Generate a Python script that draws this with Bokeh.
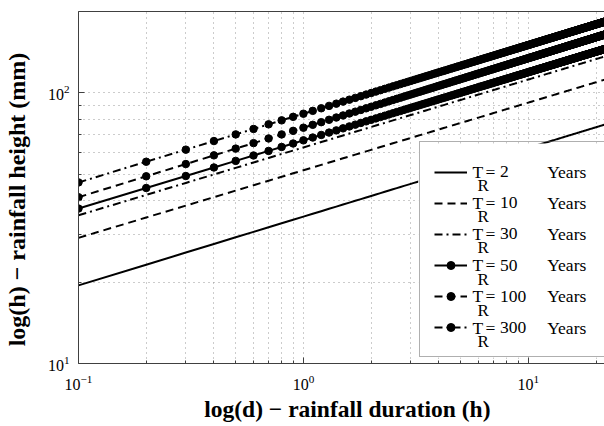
import math
from bokeh.plotting import figure
from bokeh.models import (Range1d, Legend, LegendItem, FixedTicker, LogTickFormatter,
                          LogAxis)
from bokeh.core.properties import value
from bokeh.embed import file_html
from bokeh.resources import INLINE

# ---- data ----
return_periods = [2, 10, 30, 50, 100, 300]               # T_R (years)
h_at_1h = [34.9, 51.8, 62.9, 66.8, 74.4, 83.8]            # rainfall height at d = 1 h (mm)
exponent_n = [0.254, 0.250, 0.251, 0.252, 0.257, 0.254]   # IDF exponent n  (h = a d^n)
durations = [round(0.1 * k, 1) for k in range(1, 241)]     # d = 0.1 ... 24 h, step 0.1 h

x_major_ticks = [0.1, 1, 10]
x_minor_ticks = [0.2, 0.3, 0.4, 0.5, 0.6, 0.7, 0.8, 0.9, 2, 3, 4, 5, 6, 7, 8, 9, 20]
y_major_ticks = [10, 100]
y_minor_ticks = [20, 30, 40, 50, 60, 70, 80, 90, 200]

line_dashes = ["solid", "8 5", "8 4 2 4", "solid", "8 5", "8 4 2 4"]
has_markers = [False, False, False, True, True, True]

FONT = "Liberation Serif"
X0, X1 = 0.1, 21.8
Y0, Y1 = 10, 200
W, H = 604, 426
FL, FR, FT, FB = 76, 604, 11, 363  # frame edges in px

p = figure(width=W, height=H, x_axis_type="log", y_axis_type="log",
           x_range=Range1d(X0, X1), y_range=Range1d(Y0, Y1),
           output_backend="svg", toolbar_location=None,
           min_border_left=FL, min_border_right=W - FR, min_border_top=FT,
           min_border_bottom=H - FB)
p.outline_line_color = None
p.background_fill_color = "white"
p.border_fill_color = "white"

p.xaxis[0].ticker = FixedTicker(ticks=x_major_ticks, minor_ticks=x_minor_ticks)
p.yaxis[0].ticker = FixedTicker(ticks=y_major_ticks, minor_ticks=y_minor_ticks)
p.xaxis[0].formatter = LogTickFormatter()
p.yaxis[0].formatter = LogTickFormatter()

for ax in (p.xaxis[0], p.yaxis[0]):
    ax.axis_line_color = "#404040"
    ax.axis_line_width = 1
    ax.major_tick_in = 6
    ax.major_tick_out = 0
    ax.minor_tick_in = 3
    ax.minor_tick_out = 0
    ax.major_tick_line_color = "#404040"
    ax.minor_tick_line_color = "#404040"
    ax.major_label_text_font = FONT
    ax.major_label_text_font_size = "16px"
    ax.major_label_text_color = "black"
    ax.axis_label_text_font = FONT
    ax.axis_label_text_font_style = "bold"
    ax.axis_label_text_color = "black"
p.xaxis[0].axis_label_text_font_size = "23.5px"
p.yaxis[0].axis_label_text_font_size = "24px"
p.xaxis[0].major_label_standoff = 11
p.yaxis[0].major_label_standoff = 9
p.xaxis[0].axis_label = "\u00a0\u00a0log(d) \u2212 rainfall duration (h)"
p.yaxis[0].axis_label = "log(h) \u2212 rainfall height (mm)\u00a0\u00a0\u00a0\u00a0"
p.xaxis[0].axis_label_standoff = 3
p.yaxis[0].axis_label_standoff = 15

# top frame border (axis without ticks or labels)
top_axis = LogAxis(ticker=FixedTicker(ticks=[]), axis_line_color="#404040",
                   major_label_text_font_size="0px", major_tick_line_color=None,
                   minor_tick_line_color=None)
p.add_layout(top_axis, "above")

for g in (p.xgrid[0], p.ygrid[0]):
    g.grid_line_color = "#999999"
    g.grid_line_dash = "1 4"
    g.grid_line_width = 1
    g.minor_grid_line_color = "#999999"
    g.minor_grid_line_dash = "1 4"
    g.minor_grid_line_width = 1

items = []
for tr, a, n, dash, mk in zip(return_periods, h_at_1h, exponent_n, line_dashes, has_markers):
    h = [a * d ** n for d in durations]
    r = p.line(durations, h, line_color="black", line_width=2, line_dash=dash)
    rs = [r]
    if mk:
        s = p.scatter(durations, h, marker="circle", size=7.5,
                      fill_color="black", line_color="black")
        rs.append(s)
    items.append(LegendItem(label=" ", renderers=rs))


# ---- legend box (white panel behind the legend, texts with subscript R) ----
def px_to_x(px):
    lx0, lx1 = math.log10(X0), math.log10(X1)
    return 10 ** (lx0 + (px - FL) / (FR - FL) * (lx1 - lx0))


def py_to_y(py):
    ly0, ly1 = math.log10(Y0), math.log10(Y1)
    return 10 ** (ly0 + (FB - py) / (FB - FT) * (ly1 - ly0))


LEG_L, LEG_T, LEG_B = 417, 143, 357
p.quad(left=[px_to_x(LEG_L)], right=[px_to_x(FR + 20)],
       top=[py_to_y(LEG_T)], bottom=[py_to_y(LEG_B)],
       fill_color="white", line_color=None)

baselines = [171.0 + 31.2 * i for i in range(len(return_periods))]
pieces = [
    (471.4, 0, ["T"] * 6, "17.5px"),
    (476.4, 14, ["R"] * 6, "17px"),
    (484.5, 0, ["="] * 6, "17.5px"),
    (499.0, 0, [str(t) for t in return_periods], "17.5px"),
    (546.5, 0, ["Years"] * 6, "17.5px"),
]
for px, dy, texts, fs in pieces:
    xs = [px_to_x(px)] * len(texts)
    ys = [py_to_y(b + dy) for b in baselines]
    p.text(xs, ys, text=texts, text_font=value(FONT), text_font_size=value(fs),
           text_color="black", text_baseline="alphabetic", text_align="left")

legend = Legend(items=items, location=(LEG_L - FL, FB - LEG_B), orientation="vertical",
                glyph_width=33, glyph_height=20, label_width=160, label_height=31,
                label_standoff=8, label_text_font_size="10px",
                padding=14, spacing=0, margin=0,
                border_line_color="#606060", border_line_width=1.5,
                background_fill_alpha=0)
p.add_layout(legend, "center")

open("out.html", "w").write(file_html(p, INLINE))
